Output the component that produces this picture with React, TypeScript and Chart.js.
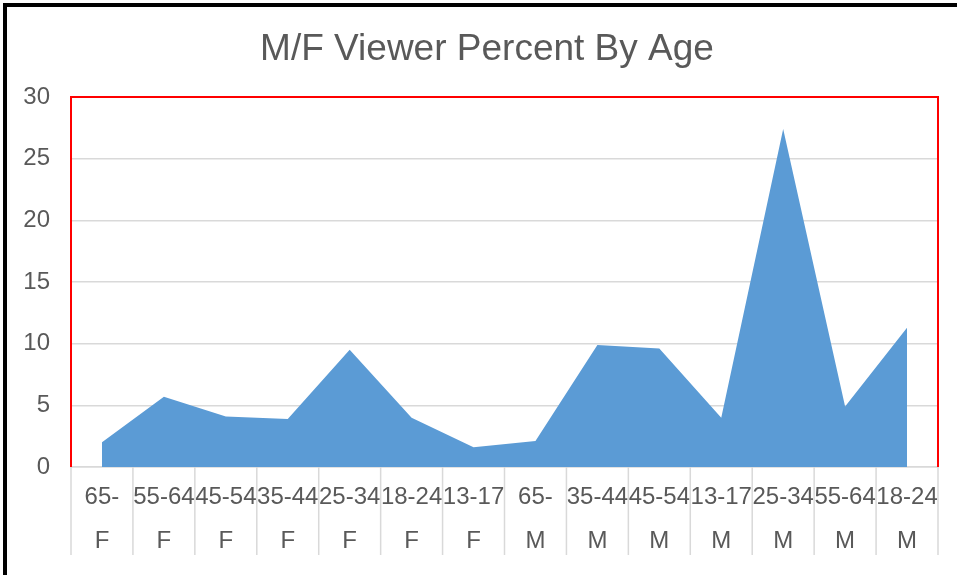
import React, { useEffect, useRef } from "react";
import { Chart, registerables } from "chart.js";

Chart.register(...registerables);

const chartTitle = "M/F Viewer Percent By Age";
const ageGroups = ["65-", "55-64", "45-54", "35-44", "25-34", "18-24", "13-17", "65-", "35-44", "45-54", "13-17", "25-34", "55-64", "18-24"];
const genders = ["F", "F", "F", "F", "F", "F", "F", "M", "M", "M", "M", "M", "M", "M"];
const viewerPercent = [2.0, 5.7, 4.1, 3.9, 9.5, 4.0, 1.6, 2.1, 9.9, 9.6, 4.0, 27.4, 4.9, 11.3];
const yMin = 0;
const yMax = 30;
const yStep = 5;

const FONT = "'Liberation Sans', Arial, sans-serif";
const TEXT = "#595959";
const GRID = "#d9d9d9";

const titlePlugin = {
  id: "centeredTitle",
  afterDraw(chart: any) {
    const { ctx } = chart;
    ctx.save();
    ctx.fillStyle = TEXT;
    ctx.font = `normal 37px ${FONT}`;
    ctx.textAlign = "center";
    ctx.textBaseline = "alphabetic";
    ctx.fillText(chartTitle, 487, 60);
    ctx.restore();
  },
};

const plotFramePlugin = {
  id: "plotFrame",
  afterDraw(chart: any) {
    const { ctx, chartArea } = chart;
    const { left, right, top, bottom } = chartArea;
    ctx.save();
    ctx.strokeStyle = "#ff0000";
    ctx.lineWidth = 2;
    ctx.beginPath();
    ctx.moveTo(left, bottom);
    ctx.lineTo(left, top);
    ctx.lineTo(right, top);
    ctx.lineTo(right, bottom);
    ctx.stroke();
    ctx.restore();
  },
};

const separatorPlugin = {
  id: "categorySeparators",
  afterDraw(chart: any) {
    const { ctx } = chart;
    const x = chart.scales.x;
    const n = x.ticks.length;
    if (n < 2) return;
    const centers: number[] = [];
    for (let i = 0; i < n; i++) centers.push(x.getPixelForValue(i));
    const half = (centers[1] - centers[0]) / 2;
    const bounds: number[] = [centers[0] - half];
    for (let i = 1; i < n; i++) bounds.push((centers[i - 1] + centers[i]) / 2);
    bounds.push(centers[n - 1] + half);
    const y0 = x.top;
    const y1 = x.top + 88;
    ctx.save();
    ctx.strokeStyle = GRID;
    ctx.lineWidth = 1.5;
    ctx.beginPath();
    bounds.forEach((b) => {
      ctx.moveTo(b, y0);
      ctx.lineTo(b, y1);
    });
    ctx.stroke();
    ctx.restore();
  },
};

export default function App() {
  const canvasRef = useRef<HTMLCanvasElement | null>(null);

  useEffect(() => {
    document.body.style.margin = "0";
    const canvas = canvasRef.current;
    if (!canvas) return;
    const labels = ageGroups.map((a, i) => [a, genders[i]]);
    const chart = new Chart(canvas, {
      type: "line",
      data: {
        labels,
        datasets: [
          {
            label: "Viewer Percent",
            data: viewerPercent,
            fill: "origin",
            backgroundColor: "#5b9bd5",
            borderColor: "#5b9bd5",
            borderWidth: 0,
            pointRadius: 0,
            pointHoverRadius: 0,
            tension: 0,
          },
        ],
      },
      options: {
        responsive: false,
        animation: false,
        layout: { padding: { left: 0, right: 19, top: 97, bottom: 0 } },
        plugins: {
          legend: { display: false },
          tooltip: { enabled: false },
          title: { display: false },
        },
        scales: {
          x: {
            type: "category",
            offset: true,
            grid: { display: false, drawTicks: false },
            border: { display: true, color: GRID, width: 1.5 },
            ticks: {
              color: TEXT,
              font: { family: FONT, size: 24, lineHeight: 44 / 24 },
              padding: 8,
              autoSkip: false,
              maxRotation: 0,
              minRotation: 0,
            },
            afterFit(scale: any) {
              scale.height = 108;
            },
          },
          y: {
            min: yMin,
            max: yMax,
            ticks: {
              stepSize: yStep,
              color: TEXT,
              font: { family: FONT, size: 24 },
              padding: 21,
            },
            grid: { color: GRID, lineWidth: 1.5, drawTicks: false },
            border: { display: false },
            afterFit(scale: any) {
              scale.width = 71;
            },
          },
        },
      },
      plugins: [plotFramePlugin, separatorPlugin, titlePlugin],
    } as any);
    return () => chart.destroy();
  }, []);

  return (
    <div style={{ position: "relative", width: 957, height: 575, overflow: "hidden", background: "#ffffff" }}>
      <div
        style={{
          position: "absolute",
          left: 3,
          top: 3,
          width: 1000,
          height: 1000,
          borderLeft: "4px solid #000",
          borderTop: "4px solid #000",
          boxSizing: "border-box",
        }}
      />
      <canvas ref={canvasRef} width={957} height={575} style={{ position: "absolute", left: 0, top: 0 }} />
    </div>
  );
}
